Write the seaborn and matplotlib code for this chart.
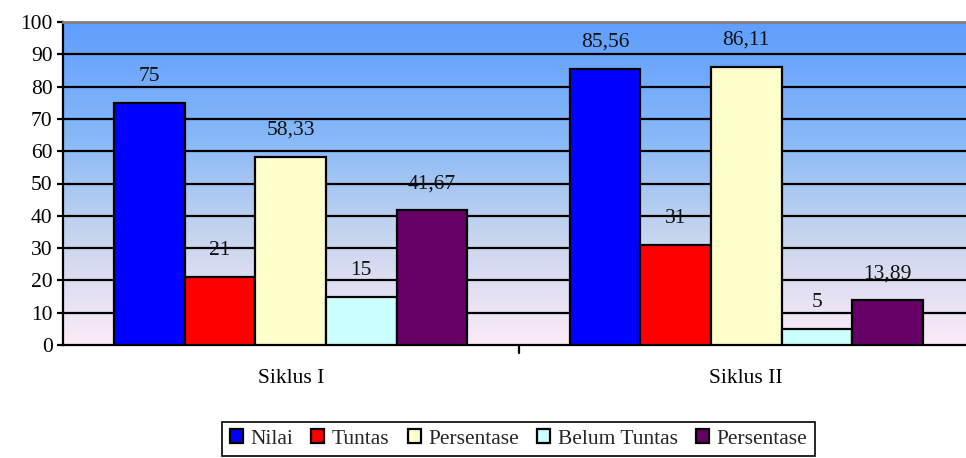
import numpy as np
import pandas as pd
import matplotlib
matplotlib.use("Agg")
import matplotlib.pyplot as plt
import seaborn as sns
from matplotlib.colors import LinearSegmentedColormap

# Data
cycles = ["Siklus I", "Siklus II"]
series_keys = ["Nilai", "Tuntas", "Persentase Tuntas", "Belum Tuntas", "Persentase Belum Tuntas"]
legend_labels = ["Nilai", "Tuntas", "Persentase", "Belum Tuntas", "Persentase"]
siklus_1 = [75, 21, 58.33, 15, 41.67]
siklus_2 = [85.56, 31, 86.11, 5, 13.89]
value_text_1 = ["75", "21", "58,33", "15", "41,67"]
value_text_2 = ["85,56", "31", "86,11", "5", "13,89"]
bar_colors = ["#0000FF", "#FF0000", "#FFFFCC", "#CCFFFF", "#660066"]

rows = []
for cyc, vals, txts in [(cycles[0], siklus_1, value_text_1), (cycles[1], siklus_2, value_text_2)]:
    for key, v, t in zip(series_keys, vals, txts):
        rows.append({"Siklus": cyc, "Seri": key, "Nilai": v, "Teks": t})
df = pd.DataFrame(rows)

sns.set_style("white")
plt.rcParams["font.family"] = ["Liberation Serif", "DejaVu Serif"]

fig = plt.figure(figsize=(9.66, 4.58), dpi=100)
ax = fig.add_axes([63 / 966, 1 - 345 / 458, 911 / 966, 323 / 458])

# Vertical gradient background of the plotting area
grad = LinearSegmentedColormap.from_list(
    "bg", [(0.0, "#5F9EFF"), (0.35, "#86B8F8"), (0.65, "#C4D4EE"), (1.0, "#FDEBF8")]
)
ax.imshow(np.linspace(0, 1, 256).reshape(-1, 1), cmap=grad, aspect="auto",
          extent=[0, 1, 0, 1], transform=ax.transAxes, zorder=0)

sns.barplot(data=df, x="Siklus", y="Nilai", hue="Seri", order=cycles,
            hue_order=series_keys, palette=bar_colors, width=0.775, gap=0,
            edgecolor="black", linewidth=1.6, saturation=1, ax=ax, zorder=3,
            legend=True)

ax.set_ylim(0, 100)
ax.set_xlim(-0.5, 1.5)
ax.set_yticks(range(0, 101, 10))
for yv in range(10, 100, 10):
    ax.axhline(yv, color="black", lw=1.6, zorder=1)

# Value labels above each bar
for container, key in zip(ax.containers, series_keys):
    sub = df[df["Seri"] == key].set_index("Siklus").loc[cycles]
    for patch, txt in zip(container.patches, sub["Teks"]):
        x = patch.get_x() + patch.get_width() / 2
        ax.annotate(txt, (x, patch.get_height()), xytext=(0, 15.8),
                    textcoords="offset points", ha="center", va="baseline",
                    fontsize=15.5, color="#111111", zorder=5)

ax.set_xlabel("")
ax.set_ylabel("")
ax.spines["right"].set_visible(False)
ax.spines["top"].set_color("#808080")
ax.spines["top"].set_linewidth(2)
ax.spines["left"].set_color("black")
ax.spines["left"].set_linewidth(1.6)
ax.spines["bottom"].set_color("black")
ax.spines["bottom"].set_linewidth(1.6)
ax.tick_params(axis="y", which="major", direction="out", length=4, width=1.6,
               pad=3.5, labelsize=15.5, left=True, colors="black")
ax.tick_params(axis="x", which="major", direction="out", length=0, pad=17,
               labelsize=15.5, colors="black")
ax.set_xticks([0, 1])
ax.set_xticklabels(cycles)
# Separator tick between the two cycles
ax.plot([0.5, 0.5], [0, -0.025], transform=ax.get_xaxis_transform(),
        color="black", lw=1.6, clip_on=False)

handles, _ = ax.get_legend_handles_labels()
ax.legend(handles, legend_labels, loc="center", bbox_to_anchor=(0.5, -0.291),
          ncol=5, frameon=True, fancybox=False, framealpha=1, edgecolor="black",
          fontsize=15.5, handlelength=0.6, handleheight=0.6, handletextpad=0.35,
          columnspacing=0.85, borderpad=0.35, borderaxespad=0)
ax.get_legend().get_frame().set_linewidth(1.2)

fig.savefig("out.png", dpi=100)
